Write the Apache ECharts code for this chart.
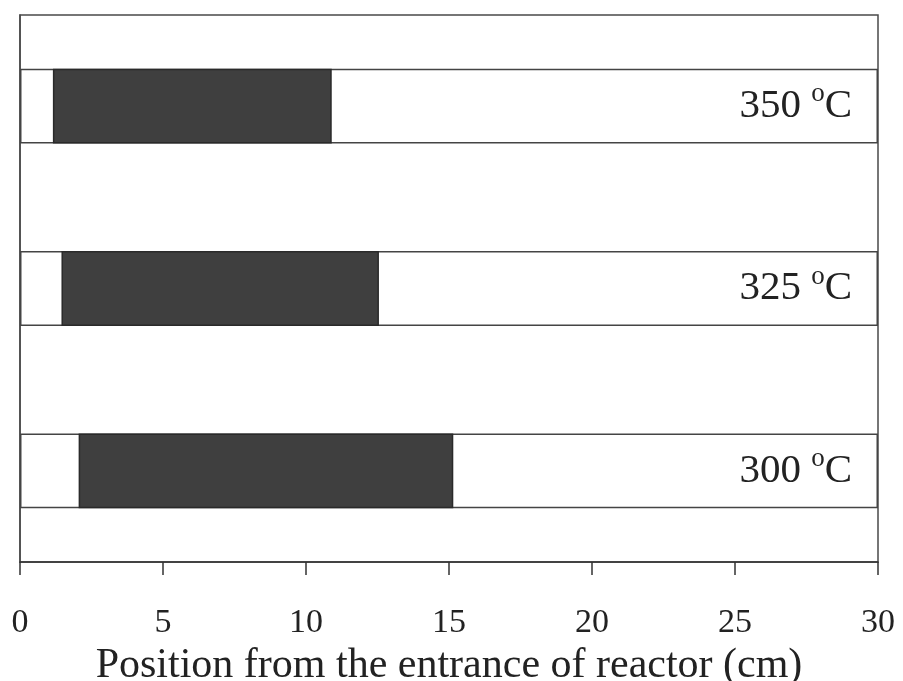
<!DOCTYPE html>
<html>
<head>
<meta charset="utf-8">
<script src="https://cdn.jsdelivr.net/npm/echarts@6/dist/echarts.min.js"></script>
<style>html,body{margin:0;padding:0;background:#fff;}#c{width:903px;height:681px;}</style>
</head>
<body>
<div id="c"></div>
<script>
// Data
var categories = ['300', '325', '350'];       // temperature (°C), bottom to top
var startCm = [2.05, 1.45, 1.15];             // dark zone start (cm)
var endCm = [15.15, 12.55, 10.9];             // dark zone end (cm)
var tubeLength = [30, 30, 30];                // reactor length (cm)
var xMin = 0, xMax = 30, xInterval = 5;
var axisTitle = 'Position from the entrance of reactor (cm)';

var darkLen = endCm.map(function (e, i) { return e - startCm[i]; });
var serif = '"Liberation Serif", "DejaVu Serif", serif';

var chart = echarts.init(document.getElementById('c'));
chart.setOption({
  animation: false,
  backgroundColor: '#fff',
  grid: { left: 20, right: 25, top: 15, bottom: 119, outerBoundsMode: 'none', containLabel: false,
          show: true, borderColor: '#4a4a4a', borderWidth: 1.5, backgroundColor: 'transparent' },
  xAxis: {
    type: 'value', min: xMin, max: xMax, interval: xInterval,
    name: axisTitle, nameLocation: 'middle', nameGap: 81,
    nameTextStyle: { fontFamily: serif, fontSize: 42, color: '#222' },
    axisLine: { show: true, lineStyle: { color: '#333', width: 1.5 } },
    axisTick: { show: true, length: 13, lineStyle: { color: '#333', width: 1.5 } },
    axisLabel: { fontFamily: serif, fontSize: 34, color: '#222', margin: 44 },
    splitLine: { show: false }
  },
  yAxis: {
    type: 'category', data: categories,
    axisLine: { show: true, lineStyle: { color: '#4a4a4a', width: 1.5 } },
    axisTick: { show: false }, axisLabel: { show: false }, splitLine: { show: false }
  },
  series: [
    {
      name: 'tube', type: 'bar', data: tubeLength, barWidth: '41%', barGap: '-100%', z: 1,
      itemStyle: { color: '#fff', borderColor: '#444', borderWidth: 1.5 },
      label: {
        show: true, position: 'insideRight', distance: 26,
        formatter: function (p) { return '{n|' + categories[p.dataIndex] + ' }{s|o}{n|C}'; },
        rich: {
          n: { fontFamily: serif, fontSize: 41, color: '#222' },
          s: { fontFamily: serif, fontSize: 27, color: '#222', padding: [0, 0, 24, 0] }
        }
      }
    },
    {
      name: 'offset', type: 'bar', stack: 'zone', data: startCm, barWidth: '41%', z: 2,
      itemStyle: { color: 'rgba(0,0,0,0)' }
    },
    {
      name: 'dark', type: 'bar', stack: 'zone', data: darkLen, barWidth: '41%', z: 2,
      itemStyle: { color: '#3f3f3f', borderColor: '#2a2a2a', borderWidth: 1.5 }
    }
  ]
});
</script>
</body>
</html>
